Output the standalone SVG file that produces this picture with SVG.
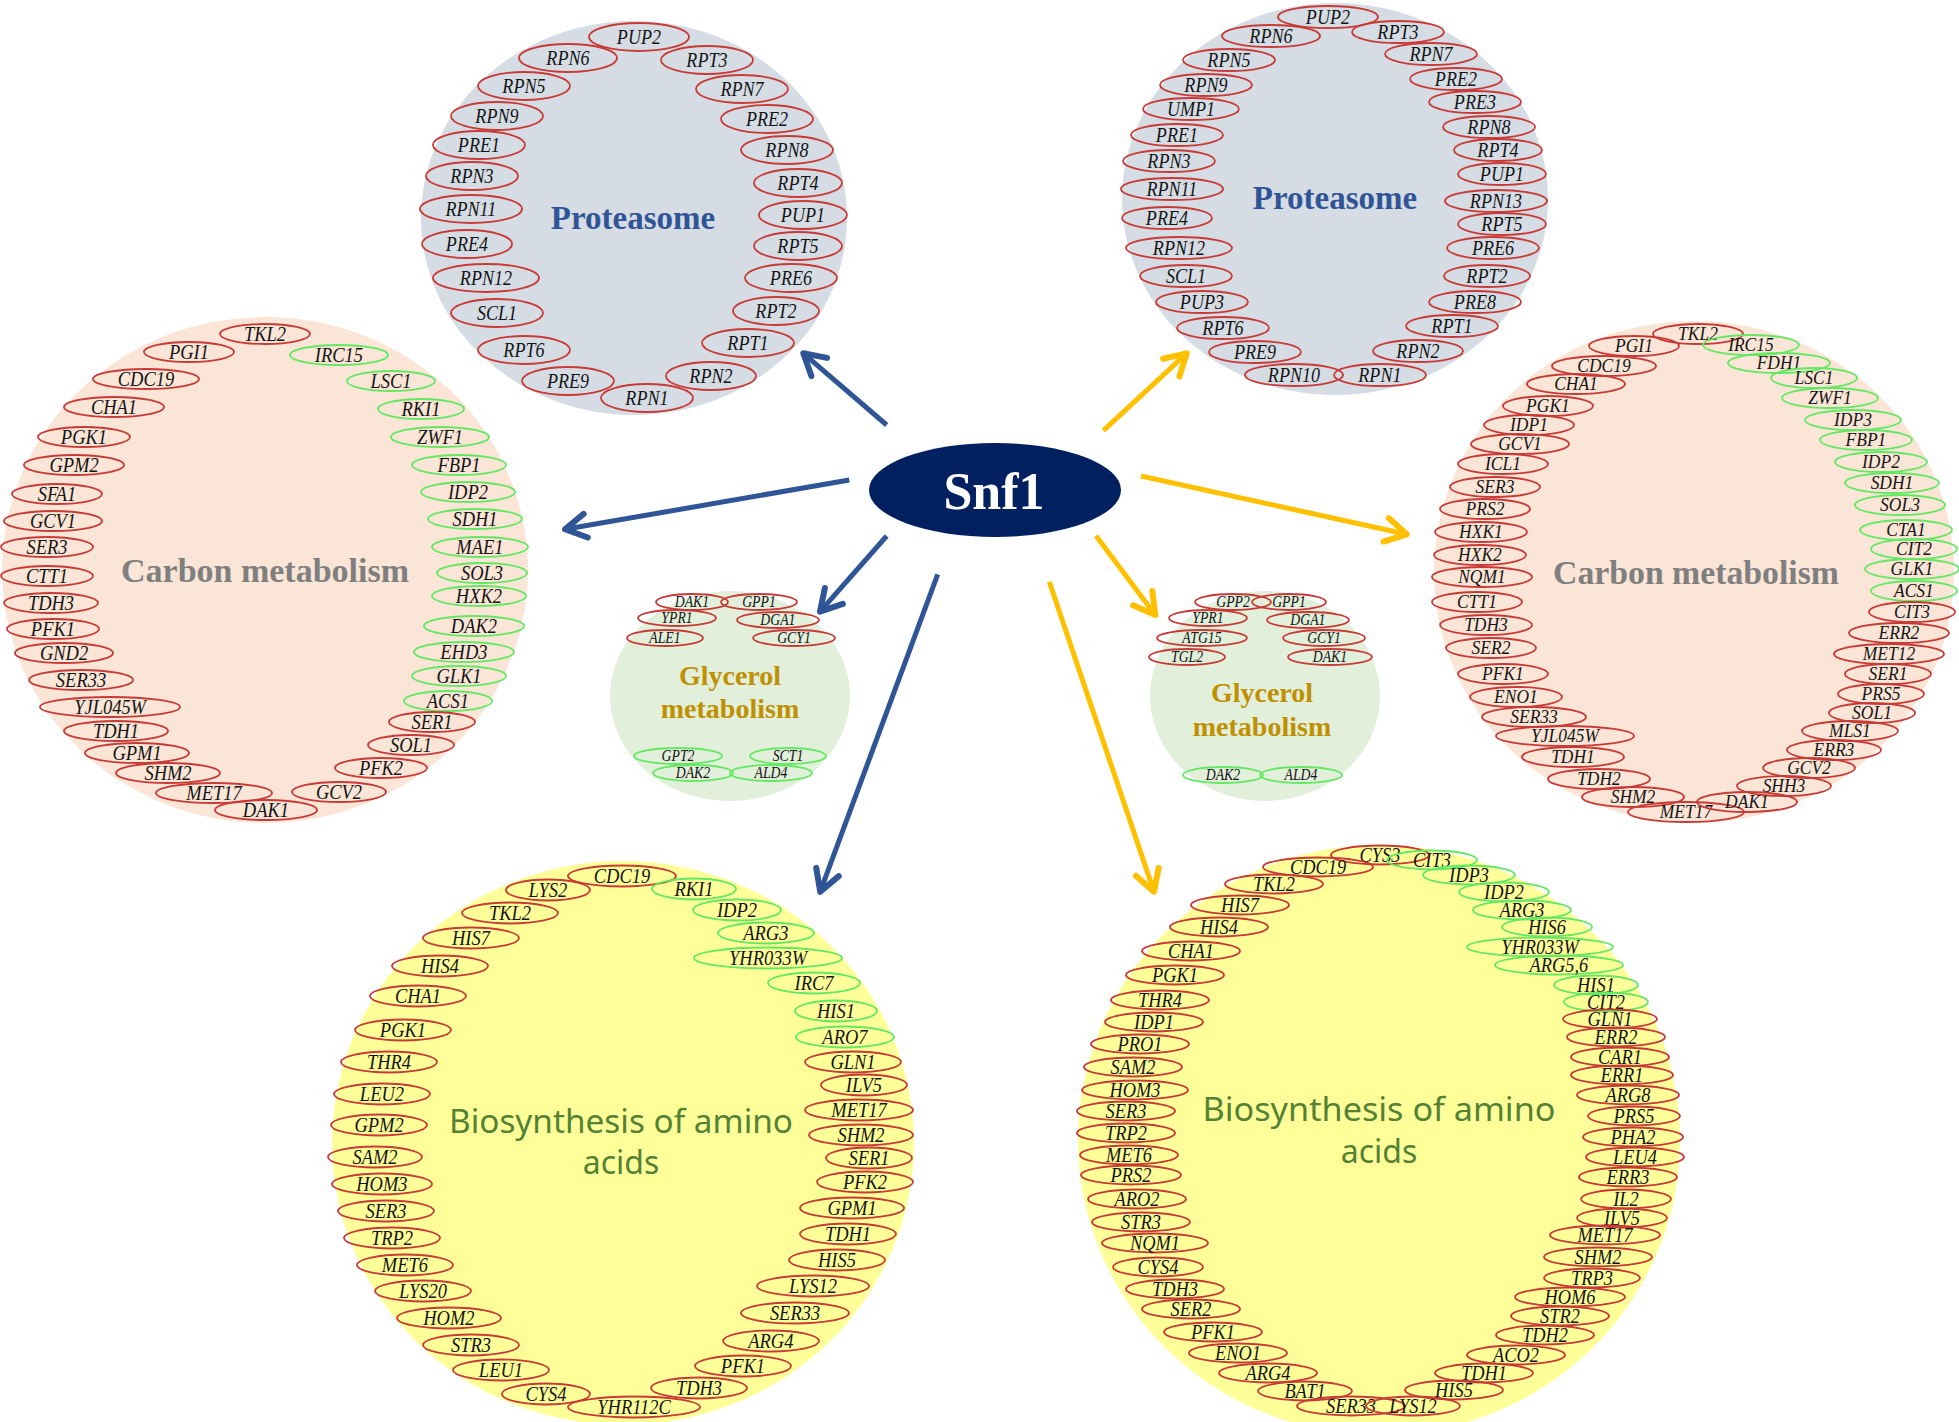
<svg xmlns="http://www.w3.org/2000/svg" width="1959" height="1422" viewBox="0 0 1959 1422">
<style>
.r{fill:none;stroke:#c83a36;stroke-width:1.8}
.g{fill:none;stroke:#62e862;stroke-width:1.8}
text{font-family:"Liberation Serif","Times New Roman",serif}
.t{font-style:italic;fill:#141414;text-anchor:middle;dominant-baseline:central;transform-box:fill-box;transform-origin:center}
.pt{font-size:21px;transform:scaleX(.86)}
.cl{font-size:21px;transform:scaleX(.88)}
.cr{font-size:19px;transform:scaleX(.92)}
.al{font-size:21px;transform:scaleX(.88)}
.ar{font-size:20px;transform:scaleX(.92)}
.gl{font-size:16px;transform:scaleX(.86)}
.ti{font-weight:bold;text-anchor:middle}
.pro{font-size:33px;fill:#2f5597}
.carb{font-size:34px;fill:#7f7f7f}
.gly{font-size:28px;fill:#bf9000}
.ami{font-family:"Noto Sans","Open Sans",sans-serif;font-size:32px;fill:#548235;text-anchor:middle}
.ab{fill:none;stroke:#2f5597;stroke-width:5}
.ay{fill:none;stroke:#ffc000;stroke-width:5}
</style>
<defs>
<marker id="mb" markerUnits="userSpaceOnUse" orient="auto" overflow="visible" markerWidth="1" markerHeight="1" refX="0" refY="0"><path d="M-21,-12 L0,0 L-21,12" fill="none" stroke="#2f5597" stroke-width="6" stroke-linecap="round" stroke-linejoin="round"/></marker>
<marker id="my" markerUnits="userSpaceOnUse" orient="auto" overflow="visible" markerWidth="1" markerHeight="1" refX="0" refY="0"><path d="M-21,-12 L0,0 L-21,12" fill="none" stroke="#ffc000" stroke-width="6" stroke-linecap="round" stroke-linejoin="round"/></marker>
</defs>
<rect width="1959" height="1422" fill="#ffffff"/>

<g id="proteasome-left">
<ellipse cx="634" cy="218" rx="213" ry="197" fill="#d6dce4"/>
<text class="ti pro" x="633" y="229">Proteasome</text>
<g id="tlp-PUP2"><ellipse class="r" cx="639" cy="37" rx="50" ry="14"/><text class="t pt" x="639" y="37">PUP2</text></g>
<g id="tlp-RPN6"><ellipse class="r" cx="568" cy="58" rx="49" ry="14"/><text class="t pt" x="568" y="58">RPN6</text></g>
<g id="tlp-RPT3"><ellipse class="r" cx="707" cy="60" rx="46" ry="14"/><text class="t pt" x="707" y="60">RPT3</text></g>
<g id="tlp-RPN5"><ellipse class="r" cx="524" cy="86" rx="46" ry="14"/><text class="t pt" x="524" y="86">RPN5</text></g>
<g id="tlp-RPN7"><ellipse class="r" cx="742" cy="89" rx="46" ry="14"/><text class="t pt" x="742" y="89">RPN7</text></g>
<g id="tlp-RPN9"><ellipse class="r" cx="497" cy="116" rx="46" ry="14"/><text class="t pt" x="497" y="116">RPN9</text></g>
<g id="tlp-PRE2"><ellipse class="r" cx="767" cy="119" rx="46" ry="14"/><text class="t pt" x="767" y="119">PRE2</text></g>
<g id="tlp-PRE1"><ellipse class="r" cx="479" cy="145" rx="46" ry="14"/><text class="t pt" x="479" y="145">PRE1</text></g>
<g id="tlp-RPN8"><ellipse class="r" cx="787" cy="150" rx="46" ry="14"/><text class="t pt" x="787" y="150">RPN8</text></g>
<g id="tlp-RPN3"><ellipse class="r" cx="472" cy="176" rx="46" ry="14"/><text class="t pt" x="472" y="176">RPN3</text></g>
<g id="tlp-RPT4"><ellipse class="r" cx="798" cy="183" rx="44" ry="14"/><text class="t pt" x="798" y="183">RPT4</text></g>
<g id="tlp-RPN11"><ellipse class="r" cx="471" cy="209" rx="51" ry="14"/><text class="t pt" x="471" y="209">RPN11</text></g>
<g id="tlp-PUP1"><ellipse class="r" cx="803" cy="215" rx="44" ry="14"/><text class="t pt" x="803" y="215">PUP1</text></g>
<g id="tlp-PRE4"><ellipse class="r" cx="467" cy="244" rx="45" ry="14"/><text class="t pt" x="467" y="244">PRE4</text></g>
<g id="tlp-RPT5"><ellipse class="r" cx="798" cy="246" rx="44" ry="14"/><text class="t pt" x="798" y="246">RPT5</text></g>
<g id="tlp-RPN12"><ellipse class="r" cx="486" cy="278" rx="53" ry="14"/><text class="t pt" x="486" y="278">RPN12</text></g>
<g id="tlp-PRE6"><ellipse class="r" cx="791" cy="278" rx="46" ry="14"/><text class="t pt" x="791" y="278">PRE6</text></g>
<g id="tlp-SCL1"><ellipse class="r" cx="497" cy="313" rx="46" ry="14"/><text class="t pt" x="497" y="313">SCL1</text></g>
<g id="tlp-RPT2"><ellipse class="r" cx="776" cy="311" rx="43" ry="14"/><text class="t pt" x="776" y="311">RPT2</text></g>
<g id="tlp-RPT6"><ellipse class="r" cx="524" cy="350" rx="46" ry="14"/><text class="t pt" x="524" y="350">RPT6</text></g>
<g id="tlp-RPT1"><ellipse class="r" cx="748" cy="343" rx="46" ry="14"/><text class="t pt" x="748" y="343">RPT1</text></g>
<g id="tlp-PRE9"><ellipse class="r" cx="568" cy="381" rx="46" ry="14"/><text class="t pt" x="568" y="381">PRE9</text></g>
<g id="tlp-RPN2"><ellipse class="r" cx="711" cy="376" rx="45" ry="14"/><text class="t pt" x="711" y="376">RPN2</text></g>
<g id="tlp-RPN1"><ellipse class="r" cx="647" cy="398" rx="46" ry="14"/><text class="t pt" x="647" y="398">RPN1</text></g>
</g>

<g id="proteasome-right">
<ellipse cx="1335" cy="199" rx="213" ry="196" fill="#d6dce4"/>
<text class="ti pro" x="1335" y="209">Proteasome</text>
<g id="trp-PUP2"><ellipse class="r" cx="1328" cy="17" rx="50" ry="11"/><text class="t pt" x="1328" y="17">PUP2</text></g>
<g id="trp-RPN6"><ellipse class="r" cx="1271" cy="36" rx="49" ry="11"/><text class="t pt" x="1271" y="36">RPN6</text></g>
<g id="trp-RPT3"><ellipse class="r" cx="1398" cy="32" rx="46" ry="11"/><text class="t pt" x="1398" y="32">RPT3</text></g>
<g id="trp-RPN5"><ellipse class="r" cx="1229" cy="60" rx="46" ry="11"/><text class="t pt" x="1229" y="60">RPN5</text></g>
<g id="trp-RPN7"><ellipse class="r" cx="1431" cy="54" rx="46" ry="11"/><text class="t pt" x="1431" y="54">RPN7</text></g>
<g id="trp-RPN9"><ellipse class="r" cx="1206" cy="85" rx="46" ry="11"/><text class="t pt" x="1206" y="85">RPN9</text></g>
<g id="trp-PRE2"><ellipse class="r" cx="1456" cy="79" rx="46" ry="11"/><text class="t pt" x="1456" y="79">PRE2</text></g>
<g id="trp-UMP1"><ellipse class="r" cx="1191" cy="109" rx="48" ry="11"/><text class="t pt" x="1191" y="109">UMP1</text></g>
<g id="trp-PRE3"><ellipse class="r" cx="1475" cy="102" rx="46" ry="11"/><text class="t pt" x="1475" y="102">PRE3</text></g>
<g id="trp-PRE1"><ellipse class="r" cx="1177" cy="135" rx="46" ry="11"/><text class="t pt" x="1177" y="135">PRE1</text></g>
<g id="trp-RPN8"><ellipse class="r" cx="1489" cy="127" rx="46" ry="11"/><text class="t pt" x="1489" y="127">RPN8</text></g>
<g id="trp-RPN3"><ellipse class="r" cx="1169" cy="161" rx="46" ry="11"/><text class="t pt" x="1169" y="161">RPN3</text></g>
<g id="trp-RPT4"><ellipse class="r" cx="1498" cy="150" rx="44" ry="11"/><text class="t pt" x="1498" y="150">RPT4</text></g>
<g id="trp-RPN11"><ellipse class="r" cx="1172" cy="189" rx="51" ry="11"/><text class="t pt" x="1172" y="189">RPN11</text></g>
<g id="trp-PUP1"><ellipse class="r" cx="1502" cy="174" rx="44" ry="11"/><text class="t pt" x="1502" y="174">PUP1</text></g>
<g id="trp-RPN13"><ellipse class="r" cx="1496" cy="201" rx="51" ry="11"/><text class="t pt" x="1496" y="201">RPN13</text></g>
<g id="trp-PRE4"><ellipse class="r" cx="1167" cy="218" rx="45" ry="11"/><text class="t pt" x="1167" y="218">PRE4</text></g>
<g id="trp-RPT5"><ellipse class="r" cx="1502" cy="224" rx="44" ry="11"/><text class="t pt" x="1502" y="224">RPT5</text></g>
<g id="trp-RPN12"><ellipse class="r" cx="1179" cy="248" rx="53" ry="11"/><text class="t pt" x="1179" y="248">RPN12</text></g>
<g id="trp-PRE6"><ellipse class="r" cx="1493" cy="248" rx="46" ry="11"/><text class="t pt" x="1493" y="248">PRE6</text></g>
<g id="trp-SCL1"><ellipse class="r" cx="1186" cy="276" rx="46" ry="11"/><text class="t pt" x="1186" y="276">SCL1</text></g>
<g id="trp-RPT2"><ellipse class="r" cx="1487" cy="276" rx="43" ry="11"/><text class="t pt" x="1487" y="276">RPT2</text></g>
<g id="trp-PUP3"><ellipse class="r" cx="1202" cy="302" rx="46" ry="11"/><text class="t pt" x="1202" y="302">PUP3</text></g>
<g id="trp-PRE8"><ellipse class="r" cx="1475" cy="302" rx="46" ry="11"/><text class="t pt" x="1475" y="302">PRE8</text></g>
<g id="trp-RPT6"><ellipse class="r" cx="1223" cy="328" rx="46" ry="11"/><text class="t pt" x="1223" y="328">RPT6</text></g>
<g id="trp-RPT1"><ellipse class="r" cx="1452" cy="326" rx="46" ry="11"/><text class="t pt" x="1452" y="326">RPT1</text></g>
<g id="trp-PRE9"><ellipse class="r" cx="1255" cy="352" rx="46" ry="11"/><text class="t pt" x="1255" y="352">PRE9</text></g>
<g id="trp-RPN2"><ellipse class="r" cx="1418" cy="351" rx="45" ry="11"/><text class="t pt" x="1418" y="351">RPN2</text></g>
<g id="trp-RPN10"><ellipse class="r" cx="1294" cy="375" rx="49" ry="11"/><text class="t pt" x="1294" y="375">RPN10</text></g>
<g id="trp-RPN1"><ellipse class="r" cx="1380" cy="375" rx="46" ry="11"/><text class="t pt" x="1380" y="375">RPN1</text></g>
</g>

<g id="carbon-left">
<ellipse cx="265" cy="570" rx="263" ry="253" fill="#fbe5d6"/>
<text class="ti carb" x="265" y="582" textLength="288" lengthAdjust="spacingAndGlyphs">Carbon metabolism</text>
<g id="lc-TKL2"><ellipse class="r" cx="265" cy="334" rx="45" ry="10"/><text class="t cl" x="265" y="334">TKL2</text></g>
<g id="lc-PGI1"><ellipse class="r" cx="189" cy="352" rx="45" ry="10"/><text class="t cl" x="189" y="352">PGI1</text></g>
<g id="lc-IRC15"><ellipse class="g" cx="339" cy="355" rx="49" ry="10"/><text class="t cl" x="339" y="355">IRC15</text></g>
<g id="lc-CDC19"><ellipse class="r" cx="146" cy="379" rx="53" ry="10"/><text class="t cl" x="146" y="379">CDC19</text></g>
<g id="lc-LSC1"><ellipse class="g" cx="391" cy="381" rx="44" ry="10"/><text class="t cl" x="391" y="381">LSC1</text></g>
<g id="lc-CHA1"><ellipse class="r" cx="114" cy="407" rx="50" ry="10"/><text class="t cl" x="114" y="407">CHA1</text></g>
<g id="lc-RKI1"><ellipse class="g" cx="421" cy="409" rx="43" ry="10"/><text class="t cl" x="421" y="409">RKI1</text></g>
<g id="lc-PGK1"><ellipse class="r" cx="84" cy="437" rx="46" ry="10"/><text class="t cl" x="84" y="437">PGK1</text></g>
<g id="lc-ZWF1"><ellipse class="g" cx="440" cy="437" rx="49" ry="10"/><text class="t cl" x="440" y="437">ZWF1</text></g>
<g id="lc-GPM2"><ellipse class="r" cx="74" cy="465" rx="50" ry="10"/><text class="t cl" x="74" y="465">GPM2</text></g>
<g id="lc-FBP1"><ellipse class="g" cx="459" cy="465" rx="47" ry="10"/><text class="t cl" x="459" y="465">FBP1</text></g>
<g id="lc-SFA1"><ellipse class="r" cx="57" cy="494" rx="45" ry="10"/><text class="t cl" x="57" y="494">SFA1</text></g>
<g id="lc-IDP2"><ellipse class="g" cx="468" cy="492" rx="47" ry="10"/><text class="t cl" x="468" y="492">IDP2</text></g>
<g id="lc-GCV1"><ellipse class="r" cx="53" cy="521" rx="49" ry="10"/><text class="t cl" x="53" y="521">GCV1</text></g>
<g id="lc-SDH1"><ellipse class="g" cx="475" cy="519" rx="47" ry="10"/><text class="t cl" x="475" y="519">SDH1</text></g>
<g id="lc-SER3"><ellipse class="r" cx="47" cy="547" rx="46" ry="10"/><text class="t cl" x="47" y="547">SER3</text></g>
<g id="lc-MAE1"><ellipse class="g" cx="480" cy="547" rx="48" ry="10"/><text class="t cl" x="480" y="547">MAE1</text></g>
<g id="lc-CTT1"><ellipse class="r" cx="47" cy="576" rx="46" ry="10"/><text class="t cl" x="47" y="576">CTT1</text></g>
<g id="lc-SOL3"><ellipse class="g" cx="482" cy="573" rx="45" ry="10"/><text class="t cl" x="482" y="573">SOL3</text></g>
<g id="lc-TDH3"><ellipse class="r" cx="51" cy="603" rx="47" ry="10"/><text class="t cl" x="51" y="603">TDH3</text></g>
<g id="lc-HXK2"><ellipse class="g" cx="479" cy="596" rx="47" ry="10"/><text class="t cl" x="479" y="596">HXK2</text></g>
<g id="lc-PFK1"><ellipse class="r" cx="53" cy="629" rx="46" ry="10"/><text class="t cl" x="53" y="629">PFK1</text></g>
<g id="lc-DAK2"><ellipse class="g" cx="474" cy="626" rx="50" ry="10"/><text class="t cl" x="474" y="626">DAK2</text></g>
<g id="lc-GND2"><ellipse class="r" cx="64" cy="653" rx="49" ry="10"/><text class="t cl" x="64" y="653">GND2</text></g>
<g id="lc-EHD3"><ellipse class="g" cx="464" cy="652" rx="50" ry="10"/><text class="t cl" x="464" y="652">EHD3</text></g>
<g id="lc-SER33"><ellipse class="r" cx="81" cy="680" rx="52" ry="10"/><text class="t cl" x="81" y="680">SER33</text></g>
<g id="lc-GLK1"><ellipse class="g" cx="459" cy="676" rx="47" ry="10"/><text class="t cl" x="459" y="676">GLK1</text></g>
<g id="lc-YJL045W"><ellipse class="r" cx="110" cy="707" rx="70" ry="10"/><text class="t cl" x="110" y="707">YJL045W</text></g>
<g id="lc-ACS1"><ellipse class="g" cx="448" cy="701" rx="44" ry="10"/><text class="t cl" x="448" y="701">ACS1</text></g>
<g id="lc-TDH1"><ellipse class="r" cx="116" cy="731" rx="52" ry="10"/><text class="t cl" x="116" y="731">TDH1</text></g>
<g id="lc-SER1"><ellipse class="r" cx="432" cy="722" rx="43" ry="10"/><text class="t cl" x="432" y="722">SER1</text></g>
<g id="lc-GPM1"><ellipse class="r" cx="137" cy="753" rx="52" ry="10"/><text class="t cl" x="137" y="753">GPM1</text></g>
<g id="lc-SOL1"><ellipse class="r" cx="411" cy="745" rx="43" ry="10"/><text class="t cl" x="411" y="745">SOL1</text></g>
<g id="lc-SHM2"><ellipse class="r" cx="168" cy="773" rx="52" ry="10"/><text class="t cl" x="168" y="773">SHM2</text></g>
<g id="lc-PFK2"><ellipse class="r" cx="381" cy="768" rx="46" ry="10"/><text class="t cl" x="381" y="768">PFK2</text></g>
<g id="lc-MET17"><ellipse class="r" cx="214" cy="793" rx="58" ry="10"/><text class="t cl" x="214" y="793">MET17</text></g>
<g id="lc-GCV2"><ellipse class="r" cx="339" cy="792" rx="47" ry="10"/><text class="t cl" x="339" y="792">GCV2</text></g>
<g id="lc-DAK1"><ellipse class="r" cx="266" cy="810" rx="51" ry="10"/><text class="t cl" x="266" y="810">DAK1</text></g>
</g>

<g id="carbon-right">
<ellipse cx="1694" cy="572" rx="260" ry="251" fill="#fbe5d6"/>
<text class="ti carb" x="1696" y="584" textLength="286" lengthAdjust="spacingAndGlyphs">Carbon metabolism</text>
<g id="rc-TKL2"><ellipse class="r" cx="1698" cy="334" rx="45" ry="10"/><text class="t cr" x="1698" y="334">TKL2</text></g>
<g id="rc-PGI1"><ellipse class="r" cx="1634" cy="346" rx="45" ry="10"/><text class="t cr" x="1634" y="346">PGI1</text></g>
<g id="rc-IRC15"><ellipse class="g" cx="1751" cy="345" rx="48" ry="10"/><text class="t cr" x="1751" y="345">IRC15</text></g>
<g id="rc-CDC19"><ellipse class="r" cx="1604" cy="366" rx="52" ry="10"/><text class="t cr" x="1604" y="366">CDC19</text></g>
<g id="rc-FDH1"><ellipse class="g" cx="1779" cy="363" rx="51" ry="10"/><text class="t cr" x="1779" y="363">FDH1</text></g>
<g id="rc-CHA1"><ellipse class="r" cx="1576" cy="384" rx="49" ry="10"/><text class="t cr" x="1576" y="384">CHA1</text></g>
<g id="rc-LSC1"><ellipse class="g" cx="1814" cy="378" rx="43" ry="10"/><text class="t cr" x="1814" y="378">LSC1</text></g>
<g id="rc-PGK1"><ellipse class="r" cx="1548" cy="406" rx="45" ry="10"/><text class="t cr" x="1548" y="406">PGK1</text></g>
<g id="rc-ZWF1"><ellipse class="g" cx="1830" cy="398" rx="48" ry="10"/><text class="t cr" x="1830" y="398">ZWF1</text></g>
<g id="rc-IDP1"><ellipse class="r" cx="1529" cy="425" rx="45" ry="10"/><text class="t cr" x="1529" y="425">IDP1</text></g>
<g id="rc-IDP3"><ellipse class="g" cx="1853" cy="420" rx="48" ry="10"/><text class="t cr" x="1853" y="420">IDP3</text></g>
<g id="rc-GCV1"><ellipse class="r" cx="1520" cy="444" rx="49" ry="10"/><text class="t cr" x="1520" y="444">GCV1</text></g>
<g id="rc-FBP1"><ellipse class="g" cx="1866" cy="440" rx="46" ry="10"/><text class="t cr" x="1866" y="440">FBP1</text></g>
<g id="rc-ICL1"><ellipse class="r" cx="1503" cy="464" rx="45" ry="10"/><text class="t cr" x="1503" y="464">ICL1</text></g>
<g id="rc-IDP2"><ellipse class="g" cx="1881" cy="462" rx="46" ry="10"/><text class="t cr" x="1881" y="462">IDP2</text></g>
<g id="rc-SER3"><ellipse class="r" cx="1495" cy="487" rx="45" ry="10"/><text class="t cr" x="1495" y="487">SER3</text></g>
<g id="rc-SDH1"><ellipse class="g" cx="1892" cy="483" rx="47" ry="10"/><text class="t cr" x="1892" y="483">SDH1</text></g>
<g id="rc-PRS2"><ellipse class="r" cx="1485" cy="509" rx="45" ry="10"/><text class="t cr" x="1485" y="509">PRS2</text></g>
<g id="rc-SOL3"><ellipse class="g" cx="1900" cy="505" rx="45" ry="10"/><text class="t cr" x="1900" y="505">SOL3</text></g>
<g id="rc-HXK1"><ellipse class="r" cx="1481" cy="532" rx="46" ry="10"/><text class="t cr" x="1481" y="532">HXK1</text></g>
<g id="rc-CTA1"><ellipse class="g" cx="1906" cy="530" rx="46" ry="10"/><text class="t cr" x="1906" y="530">CTA1</text></g>
<g id="rc-HXK2"><ellipse class="r" cx="1480" cy="555" rx="46" ry="10"/><text class="t cr" x="1480" y="555">HXK2</text></g>
<g id="rc-CIT2"><ellipse class="g" cx="1914" cy="549" rx="43" ry="10"/><text class="t cr" x="1914" y="549">CIT2</text></g>
<g id="rc-NQM1"><ellipse class="r" cx="1482" cy="577" rx="50" ry="10"/><text class="t cr" x="1482" y="577">NQM1</text></g>
<g id="rc-GLK1"><ellipse class="g" cx="1912" cy="569" rx="47" ry="10"/><text class="t cr" x="1912" y="569">GLK1</text></g>
<g id="rc-CTT1"><ellipse class="r" cx="1477" cy="602" rx="45" ry="10"/><text class="t cr" x="1477" y="602">CTT1</text></g>
<g id="rc-ACS1"><ellipse class="g" cx="1914" cy="591" rx="43" ry="10"/><text class="t cr" x="1914" y="591">ACS1</text></g>
<g id="rc-TDH3"><ellipse class="r" cx="1486" cy="625" rx="46" ry="10"/><text class="t cr" x="1486" y="625">TDH3</text></g>
<g id="rc-CIT3"><ellipse class="r" cx="1912" cy="612" rx="43" ry="10"/><text class="t cr" x="1912" y="612">CIT3</text></g>
<g id="rc-SER2"><ellipse class="r" cx="1491" cy="648" rx="45" ry="10"/><text class="t cr" x="1491" y="648">SER2</text></g>
<g id="rc-ERR2"><ellipse class="r" cx="1899" cy="633" rx="50" ry="10"/><text class="t cr" x="1899" y="633">ERR2</text></g>
<g id="rc-PFK1"><ellipse class="r" cx="1503" cy="674" rx="45" ry="10"/><text class="t cr" x="1503" y="674">PFK1</text></g>
<g id="rc-MET12"><ellipse class="r" cx="1889" cy="654" rx="55" ry="10"/><text class="t cr" x="1889" y="654">MET12</text></g>
<g id="rc-ENO1"><ellipse class="r" cx="1516" cy="697" rx="46" ry="10"/><text class="t cr" x="1516" y="697">ENO1</text></g>
<g id="rc-SER1"><ellipse class="r" cx="1888" cy="674" rx="43" ry="10"/><text class="t cr" x="1888" y="674">SER1</text></g>
<g id="rc-SER33"><ellipse class="r" cx="1534" cy="717" rx="52" ry="10"/><text class="t cr" x="1534" y="717">SER33</text></g>
<g id="rc-PRS5"><ellipse class="r" cx="1881" cy="694" rx="43" ry="10"/><text class="t cr" x="1881" y="694">PRS5</text></g>
<g id="rc-YJL045W"><ellipse class="r" cx="1565" cy="736" rx="69" ry="10"/><text class="t cr" x="1565" y="736">YJL045W</text></g>
<g id="rc-SOL1"><ellipse class="r" cx="1872" cy="713" rx="43" ry="10"/><text class="t cr" x="1872" y="713">SOL1</text></g>
<g id="rc-TDH1"><ellipse class="r" cx="1573" cy="757" rx="51" ry="10"/><text class="t cr" x="1573" y="757">TDH1</text></g>
<g id="rc-MLS1"><ellipse class="r" cx="1850" cy="731" rx="48" ry="10"/><text class="t cr" x="1850" y="731">MLS1</text></g>
<g id="rc-TDH2"><ellipse class="r" cx="1599" cy="779" rx="51" ry="10"/><text class="t cr" x="1599" y="779">TDH2</text></g>
<g id="rc-ERR3"><ellipse class="r" cx="1834" cy="750" rx="47" ry="10"/><text class="t cr" x="1834" y="750">ERR3</text></g>
<g id="rc-SHM2"><ellipse class="r" cx="1633" cy="797" rx="51" ry="10"/><text class="t cr" x="1633" y="797">SHM2</text></g>
<g id="rc-GCV2"><ellipse class="r" cx="1809" cy="768" rx="46" ry="10"/><text class="t cr" x="1809" y="768">GCV2</text></g>
<g id="rc-MET17"><ellipse class="r" cx="1686" cy="812" rx="58" ry="10"/><text class="t cr" x="1686" y="812">MET17</text></g>
<g id="rc-SHH3"><ellipse class="r" cx="1784" cy="786" rx="47" ry="10"/><text class="t cr" x="1784" y="786">SHH3</text></g>
<g id="rc-DAK1"><ellipse class="r" cx="1747" cy="802" rx="50" ry="10"/><text class="t cr" x="1747" y="802">DAK1</text></g>
</g>

<g id="glycerol-left">
<ellipse cx="730" cy="696" rx="120" ry="105" fill="#e2efda"/>
<text class="ti gly" x="730" y="685">Glycerol</text>
<text class="ti gly" x="730" y="718">metabolism</text>
<g id="lg-DAK1"><ellipse class="r" cx="692" cy="602" rx="36" ry="8"/><text class="t gl" x="692" y="602">DAK1</text></g>
<g id="lg-GPP1"><ellipse class="r" cx="759" cy="602" rx="38" ry="8"/><text class="t gl" x="759" y="602">GPP1</text></g>
<g id="lg-YPR1"><ellipse class="r" cx="677" cy="618" rx="39" ry="8"/><text class="t gl" x="677" y="618">YPR1</text></g>
<g id="lg-DGA1"><ellipse class="r" cx="778" cy="620" rx="41" ry="8"/><text class="t gl" x="778" y="620">DGA1</text></g>
<g id="lg-ALE1"><ellipse class="r" cx="665" cy="638" rx="38" ry="8"/><text class="t gl" x="665" y="638">ALE1</text></g>
<g id="lg-GCY1"><ellipse class="r" cx="794" cy="638" rx="41" ry="8"/><text class="t gl" x="794" y="638">GCY1</text></g>
<g id="lg-GPT2"><ellipse class="g" cx="678" cy="756" rx="44" ry="8"/><text class="t gl" x="678" y="756">GPT2</text></g>
<g id="lg-SCT1"><ellipse class="g" cx="788" cy="756" rx="38" ry="8"/><text class="t gl" x="788" y="756">SCT1</text></g>
<g id="lg-DAK2"><ellipse class="g" cx="693" cy="773" rx="40" ry="8"/><text class="t gl" x="693" y="773">DAK2</text></g>
<g id="lg-ALD4"><ellipse class="g" cx="771" cy="773" rx="41" ry="8"/><text class="t gl" x="771" y="773">ALD4</text></g>
</g>

<g id="glycerol-right">
<ellipse cx="1265" cy="696" rx="115" ry="105" fill="#e2efda"/>
<text class="ti gly" x="1262" y="702">Glycerol</text>
<text class="ti gly" x="1262" y="736">metabolism</text>
<g id="rg-GPP2"><ellipse class="r" cx="1233" cy="602" rx="38" ry="8"/><text class="t gl" x="1233" y="602">GPP2</text></g>
<g id="rg-GPP1"><ellipse class="r" cx="1289" cy="602" rx="37" ry="8"/><text class="t gl" x="1289" y="602">GPP1</text></g>
<g id="rg-YPR1"><ellipse class="r" cx="1208" cy="618" rx="39" ry="8"/><text class="t gl" x="1208" y="618">YPR1</text></g>
<g id="rg-DGA1"><ellipse class="r" cx="1308" cy="620" rx="41" ry="8"/><text class="t gl" x="1308" y="620">DGA1</text></g>
<g id="rg-ATG15"><ellipse class="r" cx="1202" cy="638" rx="45" ry="8"/><text class="t gl" x="1202" y="638">ATG15</text></g>
<g id="rg-GCY1"><ellipse class="r" cx="1324" cy="638" rx="41" ry="8"/><text class="t gl" x="1324" y="638">GCY1</text></g>
<g id="rg-TGL2"><ellipse class="r" cx="1187" cy="657" rx="38" ry="8"/><text class="t gl" x="1187" y="657">TGL2</text></g>
<g id="rg-DAK1"><ellipse class="r" cx="1330" cy="657" rx="42" ry="8"/><text class="t gl" x="1330" y="657">DAK1</text></g>
<g id="rg-DAK2"><ellipse class="g" cx="1223" cy="775" rx="40" ry="8"/><text class="t gl" x="1223" y="775">DAK2</text></g>
<g id="rg-ALD4"><ellipse class="g" cx="1301" cy="775" rx="41" ry="8"/><text class="t gl" x="1301" y="775">ALD4</text></g>
</g>

<g id="amino-left">
<ellipse cx="623" cy="1143" rx="291" ry="282" fill="#ffff99"/>
<text class="ami" x="621" y="1133" textLength="344" lengthAdjust="spacingAndGlyphs">Biosynthesis of amino</text>
<text class="ami" x="621" y="1174">acids</text>
<g id="la-CDC19"><ellipse class="r" cx="622" cy="876" rx="54" ry="10.5"/><text class="t al" x="622" y="876">CDC19</text></g>
<g id="la-LYS2"><ellipse class="r" cx="548" cy="890" rx="42" ry="10.5"/><text class="t al" x="548" y="890">LYS2</text></g>
<g id="la-RKI1"><ellipse class="g" cx="694" cy="889" rx="42" ry="10.5"/><text class="t al" x="694" y="889">RKI1</text></g>
<g id="la-TKL2"><ellipse class="r" cx="510" cy="913" rx="48" ry="10.5"/><text class="t al" x="510" y="913">TKL2</text></g>
<g id="la-IDP2"><ellipse class="g" cx="737" cy="910" rx="44" ry="10.5"/><text class="t al" x="737" y="910">IDP2</text></g>
<g id="la-HIS7"><ellipse class="r" cx="471" cy="938" rx="48" ry="10.5"/><text class="t al" x="471" y="938">HIS7</text></g>
<g id="la-ARG3"><ellipse class="g" cx="766" cy="933" rx="48" ry="10.5"/><text class="t al" x="766" y="933">ARG3</text></g>
<g id="la-HIS4"><ellipse class="r" cx="440" cy="966" rx="48" ry="10.5"/><text class="t al" x="440" y="966">HIS4</text></g>
<g id="la-YHR033W"><ellipse class="g" cx="768" cy="958" rx="74" ry="10.5"/><text class="t al" x="768" y="958">YHR033W</text></g>
<g id="la-IRC7"><ellipse class="g" cx="814" cy="983" rx="46" ry="10.5"/><text class="t al" x="814" y="983">IRC7</text></g>
<g id="la-CHA1"><ellipse class="r" cx="418" cy="996" rx="48" ry="10.5"/><text class="t al" x="418" y="996">CHA1</text></g>
<g id="la-HIS1"><ellipse class="g" cx="836" cy="1011" rx="41" ry="10.5"/><text class="t al" x="836" y="1011">HIS1</text></g>
<g id="la-PGK1"><ellipse class="r" cx="403" cy="1030" rx="48" ry="10.5"/><text class="t al" x="403" y="1030">PGK1</text></g>
<g id="la-ARO7"><ellipse class="g" cx="845" cy="1037" rx="49" ry="10.5"/><text class="t al" x="845" y="1037">ARO7</text></g>
<g id="la-THR4"><ellipse class="r" cx="389" cy="1062" rx="48" ry="10.5"/><text class="t al" x="389" y="1062">THR4</text></g>
<g id="la-GLN1"><ellipse class="r" cx="853" cy="1062" rx="48" ry="10.5"/><text class="t al" x="853" y="1062">GLN1</text></g>
<g id="la-ILV5"><ellipse class="r" cx="864" cy="1085" rx="43" ry="10.5"/><text class="t al" x="864" y="1085">ILV5</text></g>
<g id="la-LEU2"><ellipse class="r" cx="382" cy="1094" rx="48" ry="10.5"/><text class="t al" x="382" y="1094">LEU2</text></g>
<g id="la-MET17"><ellipse class="r" cx="859" cy="1110" rx="54" ry="10.5"/><text class="t al" x="859" y="1110">MET17</text></g>
<g id="la-GPM2"><ellipse class="r" cx="379" cy="1125" rx="48" ry="10.5"/><text class="t al" x="379" y="1125">GPM2</text></g>
<g id="la-SHM2"><ellipse class="r" cx="861" cy="1135" rx="52" ry="10.5"/><text class="t al" x="861" y="1135">SHM2</text></g>
<g id="la-SAM2"><ellipse class="r" cx="375" cy="1157" rx="47" ry="10.5"/><text class="t al" x="375" y="1157">SAM2</text></g>
<g id="la-SER1"><ellipse class="r" cx="869" cy="1158" rx="43" ry="10.5"/><text class="t al" x="869" y="1158">SER1</text></g>
<g id="la-HOM3"><ellipse class="r" cx="382" cy="1184" rx="50" ry="10.5"/><text class="t al" x="382" y="1184">HOM3</text></g>
<g id="la-PFK2"><ellipse class="r" cx="865" cy="1182" rx="48" ry="10.5"/><text class="t al" x="865" y="1182">PFK2</text></g>
<g id="la-SER3"><ellipse class="r" cx="386" cy="1211" rx="48" ry="10.5"/><text class="t al" x="386" y="1211">SER3</text></g>
<g id="la-GPM1"><ellipse class="r" cx="852" cy="1208" rx="52" ry="10.5"/><text class="t al" x="852" y="1208">GPM1</text></g>
<g id="la-TRP2"><ellipse class="r" cx="392" cy="1238" rx="48" ry="10.5"/><text class="t al" x="392" y="1238">TRP2</text></g>
<g id="la-TDH1"><ellipse class="r" cx="848" cy="1234" rx="48" ry="10.5"/><text class="t al" x="848" y="1234">TDH1</text></g>
<g id="la-MET6"><ellipse class="r" cx="405" cy="1265" rx="48" ry="10.5"/><text class="t al" x="405" y="1265">MET6</text></g>
<g id="la-HIS5"><ellipse class="r" cx="837" cy="1260" rx="48" ry="10.5"/><text class="t al" x="837" y="1260">HIS5</text></g>
<g id="la-LYS20"><ellipse class="r" cx="423" cy="1291" rx="48" ry="10.5"/><text class="t al" x="423" y="1291">LYS20</text></g>
<g id="la-LYS12"><ellipse class="r" cx="813" cy="1286" rx="56" ry="10.5"/><text class="t al" x="813" y="1286">LYS12</text></g>
<g id="la-HOM2"><ellipse class="r" cx="449" cy="1318" rx="52" ry="10.5"/><text class="t al" x="449" y="1318">HOM2</text></g>
<g id="la-SER33"><ellipse class="r" cx="795" cy="1313" rx="54" ry="10.5"/><text class="t al" x="795" y="1313">SER33</text></g>
<g id="la-STR3"><ellipse class="r" cx="471" cy="1345" rx="48" ry="10.5"/><text class="t al" x="471" y="1345">STR3</text></g>
<g id="la-ARG4"><ellipse class="r" cx="771" cy="1341" rx="48" ry="10.5"/><text class="t al" x="771" y="1341">ARG4</text></g>
<g id="la-LEU1"><ellipse class="r" cx="501" cy="1370" rx="48" ry="10.5"/><text class="t al" x="501" y="1370">LEU1</text></g>
<g id="la-PFK1"><ellipse class="r" cx="743" cy="1366" rx="48" ry="10.5"/><text class="t al" x="743" y="1366">PFK1</text></g>
<g id="la-CYS4"><ellipse class="r" cx="546" cy="1394" rx="44" ry="10.5"/><text class="t al" x="546" y="1394">CYS4</text></g>
<g id="la-TDH3"><ellipse class="r" cx="699" cy="1388" rx="48" ry="10.5"/><text class="t al" x="699" y="1388">TDH3</text></g>
<g id="la-YHR112C"><ellipse class="r" cx="634" cy="1407" rx="66" ry="10.5"/><text class="t al" x="634" y="1407">YHR112C</text></g>
</g>

<g id="amino-right">
<ellipse cx="1379" cy="1140" rx="301" ry="295" fill="#ffff99"/>
<text class="ami" x="1379" y="1121" textLength="353" lengthAdjust="spacingAndGlyphs">Biosynthesis of amino</text>
<text class="ami" x="1379" y="1163">acids</text>
<g id="ra-CYS3"><ellipse class="r" cx="1380" cy="855" rx="49" ry="9.5"/><text class="t ar" x="1380" y="855">CYS3</text></g>
<g id="ra-CDC19"><ellipse class="r" cx="1318" cy="867" rx="55" ry="9.5"/><text class="t ar" x="1318" y="867">CDC19</text></g>
<g id="ra-CIT3"><ellipse class="g" cx="1432" cy="860" rx="45" ry="9.5"/><text class="t ar" x="1432" y="860">CIT3</text></g>
<g id="ra-IDP3"><ellipse class="g" cx="1469" cy="875" rx="46" ry="9.5"/><text class="t ar" x="1469" y="875">IDP3</text></g>
<g id="ra-TKL2"><ellipse class="r" cx="1274" cy="884" rx="49" ry="9.5"/><text class="t ar" x="1274" y="884">TKL2</text></g>
<g id="ra-IDP2"><ellipse class="g" cx="1504" cy="892" rx="45" ry="9.5"/><text class="t ar" x="1504" y="892">IDP2</text></g>
<g id="ra-HIS7"><ellipse class="r" cx="1240" cy="905" rx="49" ry="9.5"/><text class="t ar" x="1240" y="905">HIS7</text></g>
<g id="ra-ARG3"><ellipse class="g" cx="1522" cy="910" rx="49" ry="9.5"/><text class="t ar" x="1522" y="910">ARG3</text></g>
<g id="ra-HIS4"><ellipse class="r" cx="1219" cy="927" rx="49" ry="9.5"/><text class="t ar" x="1219" y="927">HIS4</text></g>
<g id="ra-HIS6"><ellipse class="g" cx="1547" cy="927" rx="45" ry="9.5"/><text class="t ar" x="1547" y="927">HIS6</text></g>
<g id="ra-CHA1"><ellipse class="r" cx="1191" cy="951" rx="49" ry="9.5"/><text class="t ar" x="1191" y="951">CHA1</text></g>
<g id="ra-YHR033W"><ellipse class="g" cx="1540" cy="947" rx="73" ry="9.5"/><text class="t ar" x="1540" y="947">YHR033W</text></g>
<g id="ra-ARG56"><ellipse class="g" cx="1559" cy="965" rx="64" ry="9.5"/><text class="t ar" x="1559" y="965">ARG5,6</text></g>
<g id="ra-PGK1"><ellipse class="r" cx="1175" cy="975" rx="49" ry="9.5"/><text class="t ar" x="1175" y="975">PGK1</text></g>
<g id="ra-HIS1"><ellipse class="g" cx="1596" cy="985" rx="42" ry="9.5"/><text class="t ar" x="1596" y="985">HIS1</text></g>
<g id="ra-THR4"><ellipse class="r" cx="1160" cy="1000" rx="49" ry="9.5"/><text class="t ar" x="1160" y="1000">THR4</text></g>
<g id="ra-CIT2"><ellipse class="g" cx="1606" cy="1002" rx="42" ry="9.5"/><text class="t ar" x="1606" y="1002">CIT2</text></g>
<g id="ra-IDP1"><ellipse class="r" cx="1154" cy="1022" rx="49" ry="9.5"/><text class="t ar" x="1154" y="1022">IDP1</text></g>
<g id="ra-GLN1"><ellipse class="r" cx="1610" cy="1019" rx="47" ry="9.5"/><text class="t ar" x="1610" y="1019">GLN1</text></g>
<g id="ra-PRO1"><ellipse class="r" cx="1140" cy="1044" rx="49" ry="9.5"/><text class="t ar" x="1140" y="1044">PRO1</text></g>
<g id="ra-ERR2"><ellipse class="r" cx="1616" cy="1037" rx="49" ry="9.5"/><text class="t ar" x="1616" y="1037">ERR2</text></g>
<g id="ra-SAM2"><ellipse class="r" cx="1133" cy="1067" rx="49" ry="9.5"/><text class="t ar" x="1133" y="1067">SAM2</text></g>
<g id="ra-CAR1"><ellipse class="r" cx="1620" cy="1057" rx="49" ry="9.5"/><text class="t ar" x="1620" y="1057">CAR1</text></g>
<g id="ra-HOM3"><ellipse class="r" cx="1135" cy="1090" rx="53" ry="9.5"/><text class="t ar" x="1135" y="1090">HOM3</text></g>
<g id="ra-ERR1"><ellipse class="r" cx="1622" cy="1075" rx="51" ry="9.5"/><text class="t ar" x="1622" y="1075">ERR1</text></g>
<g id="ra-SER3"><ellipse class="r" cx="1126" cy="1111" rx="49" ry="9.5"/><text class="t ar" x="1126" y="1111">SER3</text></g>
<g id="ra-ARG8"><ellipse class="r" cx="1628" cy="1095" rx="51" ry="9.5"/><text class="t ar" x="1628" y="1095">ARG8</text></g>
<g id="ra-TRP2"><ellipse class="r" cx="1126" cy="1133" rx="49" ry="9.5"/><text class="t ar" x="1126" y="1133">TRP2</text></g>
<g id="ra-PRS5"><ellipse class="r" cx="1634" cy="1116" rx="46" ry="9.5"/><text class="t ar" x="1634" y="1116">PRS5</text></g>
<g id="ra-MET6"><ellipse class="r" cx="1129" cy="1155" rx="49" ry="9.5"/><text class="t ar" x="1129" y="1155">MET6</text></g>
<g id="ra-PHA2"><ellipse class="r" cx="1633" cy="1137" rx="50" ry="9.5"/><text class="t ar" x="1633" y="1137">PHA2</text></g>
<g id="ra-PRS2"><ellipse class="r" cx="1131" cy="1175" rx="50" ry="9.5"/><text class="t ar" x="1131" y="1175">PRS2</text></g>
<g id="ra-LEU4"><ellipse class="r" cx="1635" cy="1157" rx="49" ry="9.5"/><text class="t ar" x="1635" y="1157">LEU4</text></g>
<g id="ra-ARO2"><ellipse class="r" cx="1137" cy="1199" rx="49" ry="9.5"/><text class="t ar" x="1137" y="1199">ARO2</text></g>
<g id="ra-ERR3"><ellipse class="r" cx="1628" cy="1177" rx="49" ry="9.5"/><text class="t ar" x="1628" y="1177">ERR3</text></g>
<g id="ra-STR3"><ellipse class="r" cx="1141" cy="1222" rx="49" ry="9.5"/><text class="t ar" x="1141" y="1222">STR3</text></g>
<g id="ra-IL2"><ellipse class="r" cx="1626" cy="1199" rx="45" ry="9.5"/><text class="t ar" x="1626" y="1199">IL2</text></g>
<g id="ra-NQM1"><ellipse class="r" cx="1155" cy="1243" rx="53" ry="9.5"/><text class="t ar" x="1155" y="1243">NQM1</text></g>
<g id="ra-ILV5"><ellipse class="r" cx="1622" cy="1218" rx="45" ry="9.5"/><text class="t ar" x="1622" y="1218">ILV5</text></g>
<g id="ra-CYS4"><ellipse class="r" cx="1158" cy="1267" rx="45" ry="9.5"/><text class="t ar" x="1158" y="1267">CYS4</text></g>
<g id="ra-MET17"><ellipse class="r" cx="1605" cy="1235" rx="55" ry="9.5"/><text class="t ar" x="1605" y="1235">MET17</text></g>
<g id="ra-TDH3"><ellipse class="r" cx="1175" cy="1289" rx="49" ry="9.5"/><text class="t ar" x="1175" y="1289">TDH3</text></g>
<g id="ra-SHM2"><ellipse class="r" cx="1598" cy="1257" rx="54" ry="9.5"/><text class="t ar" x="1598" y="1257">SHM2</text></g>
<g id="ra-SER2"><ellipse class="r" cx="1191" cy="1309" rx="49" ry="9.5"/><text class="t ar" x="1191" y="1309">SER2</text></g>
<g id="ra-TRP3"><ellipse class="r" cx="1592" cy="1278" rx="48" ry="9.5"/><text class="t ar" x="1592" y="1278">TRP3</text></g>
<g id="ra-PFK1"><ellipse class="r" cx="1213" cy="1332" rx="49" ry="9.5"/><text class="t ar" x="1213" y="1332">PFK1</text></g>
<g id="ra-HOM6"><ellipse class="r" cx="1570" cy="1297" rx="55" ry="9.5"/><text class="t ar" x="1570" y="1297">HOM6</text></g>
<g id="ra-ENO1"><ellipse class="r" cx="1238" cy="1353" rx="49" ry="9.5"/><text class="t ar" x="1238" y="1353">ENO1</text></g>
<g id="ra-STR2"><ellipse class="r" cx="1560" cy="1316" rx="49" ry="9.5"/><text class="t ar" x="1560" y="1316">STR2</text></g>
<g id="ra-ARG4"><ellipse class="r" cx="1268" cy="1373" rx="49" ry="9.5"/><text class="t ar" x="1268" y="1373">ARG4</text></g>
<g id="ra-TDH2"><ellipse class="r" cx="1545" cy="1335" rx="49" ry="9.5"/><text class="t ar" x="1545" y="1335">TDH2</text></g>
<g id="ra-BAT1"><ellipse class="r" cx="1305" cy="1391" rx="47" ry="9.5"/><text class="t ar" x="1305" y="1391">BAT1</text></g>
<g id="ra-ACO2"><ellipse class="r" cx="1516" cy="1355" rx="49" ry="9.5"/><text class="t ar" x="1516" y="1355">ACO2</text></g>
<g id="ra-SER33"><ellipse class="r" cx="1351" cy="1406" rx="54" ry="9.5"/><text class="t ar" x="1351" y="1406">SER33</text></g>
<g id="ra-TDH1"><ellipse class="r" cx="1484" cy="1373" rx="49" ry="9.5"/><text class="t ar" x="1484" y="1373">TDH1</text></g>
<g id="ra-LYS12"><ellipse class="r" cx="1413" cy="1406" rx="47" ry="9.5"/><text class="t ar" x="1413" y="1406">LYS12</text></g>
<g id="ra-HIS5"><ellipse class="r" cx="1454" cy="1390" rx="49" ry="9.5"/><text class="t ar" x="1454" y="1390">HIS5</text></g>
</g>

<g id="connectors">
<path class="ab" d="M886.7,425 L803.3,353.3" marker-end="url(#mb)"/>
<path class="ab" d="M849.3,480 L565,529.3" marker-end="url(#mb)"/>
<path class="ab" d="M886.7,536 L820,611.7" marker-end="url(#mb)"/>
<path class="ab" d="M937.7,574.3 L820.2,891.7" marker-end="url(#mb)"/>
<path class="ay" d="M1103.3,430.7 L1186.7,353.3" marker-end="url(#my)"/>
<path class="ay" d="M1141,476 L1406.7,534.3" marker-end="url(#my)"/>
<path class="ay" d="M1096,535.7 L1155.3,615" marker-end="url(#my)"/>
<path class="ay" d="M1049.3,581.7 L1154,891.7" marker-end="url(#my)"/>
</g>

<g id="snf1">
<ellipse cx="995" cy="490" rx="126" ry="47" fill="#002060"/>
<text x="994" y="509" font-size="52" font-weight="bold" fill="#ffffff" text-anchor="middle">Snf1</text>
</g>
</svg>
